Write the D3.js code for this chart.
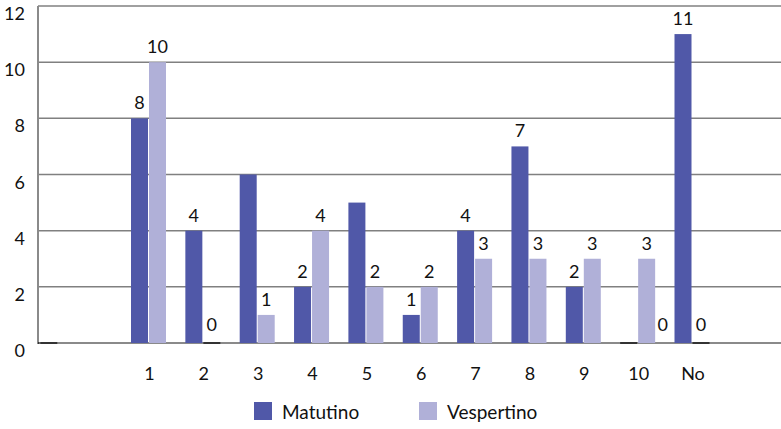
<!DOCTYPE html>
<html>
<head>
<meta charset="utf-8">
<script src="https://cdn.jsdelivr.net/npm/d3@7"></script>
<style>
  html, body { margin: 0; padding: 0; background: #fff; }
  svg { display: block; }
  text { font-family: Lato, "Open Sans", sans-serif; fill: #111; }
</style>
</head>
<body>
<svg id="chart" width="781" height="429"></svg>
<script>
// ---- data ----
const categories = ["", " ", "1", "2", "3", "4", "5", "6", "7", "8", "9", "10", "No"];
const matutino   = [0, null, 8, 4, 6, 2, 5, 1, 4, 7, 2, 0, 11];
const vespertino = [0, null, 10, 0, 1, 4, 2, 2, 3, 3, 3, 3, 0];
// which Matutino value labels are shown in the original (3 and 5 have none)
const matutinoLabelShown = [false, false, true, true, false, true, false, true, true, true, true, true, true];
const seriesNames = ["Matutino", "Vespertino"];
const yTicks = [0, 2, 4, 6, 8, 10, 12];

// ---- layout ----
const W = 781, H = 429;
const plot = { left: 38, right: 781, top: 6, bottom: 343 };
const colors = { Matutino: "#5058a8", Vespertino: "#b0b0d8" };
const step = 54.35;
const bw = 17;

const svg = d3.select("#chart");

const y = d3.scaleLinear().domain([0, 12]).range([plot.bottom, plot.top]);
const x = d3.scalePoint()
  .domain(categories)
  .range([39.8, 39.8 + (categories.length - 1) * step]);

svg.append("defs").append("clipPath").attr("id", "clip")
  .append("rect")
  .attr("x", plot.left).attr("y", 0)
  .attr("width", plot.right - plot.left).attr("height", plot.bottom + 4);

// gridlines
svg.append("g").selectAll("line").data(yTicks.filter(t => t > 0)).join("line")
  .attr("x1", plot.left).attr("x2", plot.right)
  .attr("y1", d => y(d)).attr("y2", d => y(d))
  .attr("stroke", "#808080").attr("stroke-width", 1.5);

// y tick labels
svg.append("g").selectAll("text").data(yTicks).join("text")
  .attr("x", 25).attr("y", d => y(d) + 14)
  .attr("text-anchor", "end")
  .attr("font-size", 18)
  .text(d => d);

// rows
const rows = [];
categories.forEach((c, i) => {
  rows.push({ cat: c, i, key: "Matutino", v: matutino[i], show: matutinoLabelShown[i] });
  rows.push({ cat: c, i, key: "Vespertino", v: vespertino[i], show: c.trim() !== "" });
});
const barX = d => x(d.cat) + (d.key === "Matutino" ? -bw - 0.5 : 0.5);

// axes lines
svg.append("line")
  .attr("x1", plot.left).attr("x2", plot.right)
  .attr("y1", plot.bottom).attr("y2", plot.bottom)
  .attr("stroke", "#8a8a8a").attr("stroke-width", 2);
svg.append("line")
  .attr("x1", plot.left).attr("x2", plot.left)
  .attr("y1", plot.top).attr("y2", plot.bottom + 1)
  .attr("stroke", "#8a8a8a").attr("stroke-width", 2);

const g = svg.append("g").attr("clip-path", "url(#clip)");
g.selectAll("rect.bar").data(rows.filter(d => d.v !== null && d.v > 0)).join("rect")
  .attr("class", "bar")
  .attr("x", barX)
  .attr("width", bw)
  .attr("y", d => y(d.v))
  .attr("height", d => y(0) - y(d.v))
  .attr("fill", d => colors[d.key]);

// zero-value bars as dark segments on the baseline
const zg = svg.append("g").attr("clip-path", "url(#clip)");
zg.selectAll("line").data(rows.filter(d => d.v === 0)).join("line")
  .attr("x1", d => Math.max(plot.left, barX(d)))
  .attr("x2", d => barX(d) + bw)
  .attr("y1", plot.bottom).attr("y2", plot.bottom)
  .attr("stroke", "#333").attr("stroke-width", 2);

// value labels
svg.append("g").selectAll("text")
  .data(rows.filter(d => d.v !== null && d.show))
  .join("text")
  .attr("x", d => {
    let cx = barX(d) + bw / 2;
    if (d.v === 0 && d.key === "Matutino") cx += 2 * bw; // label placed beside empty bar
    return cx;
  })
  .attr("y", d => y(d.v) - (d.v === 0 ? 12 : 9))
  .attr("text-anchor", "middle")
  .attr("font-size", 18)
  .text(d => d.v);

// x tick labels
svg.append("g").selectAll("text").data(categories.filter(c => c.trim() !== "")).join("text")
  .attr("x", d => x(d) + 1)
  .attr("y", 380)
  .attr("text-anchor", "middle")
  .attr("font-size", 18)
  .text(d => d);

// legend
const legendX = [254, 419];
const lg = svg.append("g").selectAll("g").data(seriesNames).join("g")
  .attr("transform", (d, i) => `translate(${legendX[i]},402)`);
lg.append("rect").attr("width", 18).attr("height", 18).attr("fill", d => colors[d]);
lg.append("text").attr("x", 28).attr("y", 17).attr("font-size", 19).text(d => d);
</script>
</body>
</html>
